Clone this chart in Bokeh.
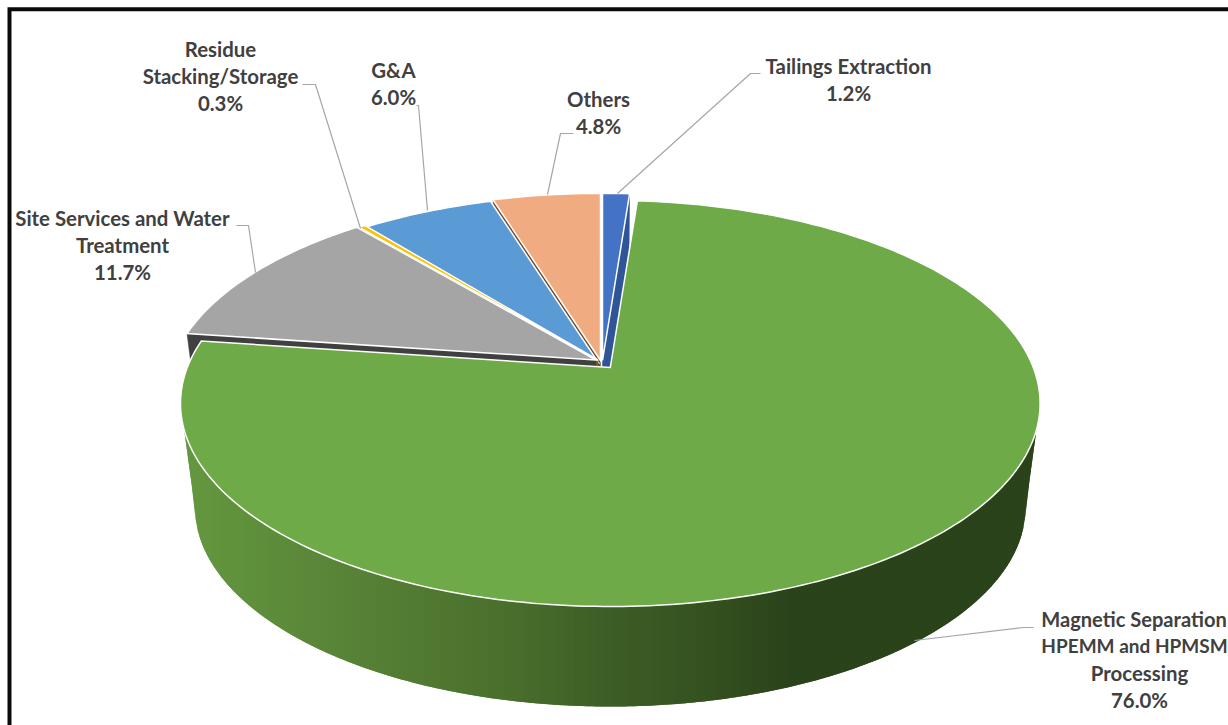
import math
import numpy as np
from bokeh.embed import file_html
from bokeh.models import ColumnDataSource
from bokeh.plotting import figure
from bokeh.resources import INLINE
from bokeh.core.properties import value

# Operating cost shares, in drawing order: clockwise from twelve o'clock
categories = ["Tailings Extraction", "Magnetic Separation, HPEMM and HPMSM Processing",
              "Site Services and Water Treatment", "Residue Stacking/Storage", "G&A", "Others"]
shares = [1.2, 76.0, 11.7, 0.3, 6.0, 4.8]
top_colors = ["#4472c4", "#6eaa47", "#a5a5a5", "#ffc000", "#5b9bd5", "#f0ac80"]
side_colors = ["#2f5597", "#3e5f27", "#404040", "#7f6000", "#2e5d8a", "#6b4a30"]

# Pie projection: a tilted disc with a perspective term
SPREAD = 196.7
HALF_WIDTH = 423.0
TILT = 0.177
DEPTH = 103.6
LOW_X, LOW_Y = 0.967, 0.985
# Rim angles where the disc reaches its left and right extremes on screen
RIGHT_TURN = 100.2
LEFT_TURN = 259.8

# Where each slice's tip sits once pulled apart from the others
tips = {"Tailings Extraction": (602, 360),
        "Magnetic Separation, HPEMM and HPMSM Processing": (609.8, 367),
        "Site Services and Water Treatment": (595.5, 359.5),
        "Residue Stacking/Storage": (597.5, 359.5),
        "G&A": (597.5, 361.5),
        "Others": (600, 360)}

# Horizontal shading across the outer wall of the large slice
wall_stops = [(183, (0x64, 0x98, 0x3f)), (370, (0x56, 0x80, 0x35)), (500, (0x4a, 0x70, 0x2d)),
              (600, (0x3e, 0x5f, 0x27)), (700, (0x35, 0x52, 0x20)), (790, (0x2b, 0x43, 0x1b)),
              (1040, (0x2b, 0x43, 0x1b))]


def rim(theta, tip, low=False):
    t = math.radians(theta)
    u, v = math.sin(t), -math.cos(t)
    d = 1 - TILT * v
    x, y = HALF_WIDTH * u / d, SPREAD * v / d
    if low:
        return tip[0] + x * LOW_X, tip[1] + DEPTH + y * LOW_Y
    return tip[0] + x, tip[1] + y


def wall_color(x):
    for (x0, c0), (x1, c1) in zip(wall_stops, wall_stops[1:]):
        if x <= x1:
            f = max(0.0, (x - x0) / (x1 - x0))
            return "#%02x%02x%02x" % tuple(round(a + (b - a) * f) for a, b in zip(c0, c1))
    return "#%02x%02x%02x" % wall_stops[-1][1]


def outer_wall(tip):
    # Overlapping vertical strips between the upper rim and the silhouette below it;
    # each strip is painted over the right part of the one before, which hides the joins
    sweep = np.linspace(LEFT_TURN, RIGHT_TURN, 400)
    top = np.array([rim(a, tip) for a in sweep])
    low = np.array([rim(a, tip, True) for a in sweep])
    edge_x = np.concatenate(([top[0, 0]], low[:, 0], [top[-1, 0]]))
    edge_y = np.concatenate(([top[0, 1]], low[:, 1], [top[-1, 1]]))
    xs, ys, cols = [], [], []
    x_end = top[-1, 0]
    for x0 in range(int(math.ceil(top[0, 0])), int(x_end), 2):
        x1 = min(x0 + 4, x_end)
        t0, t1 = np.interp([x0, x1], top[:, 0], top[:, 1])
        b0, b1 = np.interp([x0, x1], edge_x, edge_y)
        xs.append([x0, x1, x1, x0])
        ys.append([t0 - 1, t1 - 1, b1, b0])
        cols.append(wall_color(x0 + 1))
    return dict(xs=xs, ys=ys, c=cols)


p = figure(width=1228, height=725, x_range=(0, 1228), y_range=(725, 0),
           output_backend="svg", toolbar_location=None, min_border=0)
p.axis.visible = False
p.grid.visible = False
p.outline_line_color = None
p.background_fill_color = "white"
p.border_fill_color = "white"

# Black frame, open at the right and the bottom
p.line([9, 9, 1228], [725, 8.7, 8.7], line_color="#0a0a0a", line_width=4, line_join="miter")

# Slice angles: the large slice is painted last so it overlaps the rest
start = 0.0
spans = {}
for name, share in zip(categories, shares):
    spans[name] = (start, start + share * 3.6)
    start += share * 3.6

order = [0, 5, 4, 3, 2, 1]
for i in order:
    name = categories[i]
    tip = tips[name]
    a0, a1 = spans[name]
    if shares[i] > 50:
        p.patches(xs="xs", ys="ys", source=ColumnDataSource(outer_wall(tip)),
                  fill_color="c", line_color=None)
    else:
        # Cut face of a small slice, visible on the side that faces the gap
        edge = a1 if (a0 + a1) / 2 < 180 else a0
        r0, r1 = rim(edge, tip), rim(edge, tip, True)
        p.patch([tip[0], r0[0], r1[0], tip[0]], [tip[1], r0[1], r1[1], tip[1] + DEPTH],
                fill_color=side_colors[i], line_color=side_colors[i], line_width=0.5)

    steps = max(2, int(a1 - a0))
    arc = [rim(a0 + (a1 - a0) * k / steps, tip) for k in range(steps + 1)]
    p.patch([tip[0]] + [q[0] for q in arc], [tip[1]] + [q[1] for q in arc],
            fill_color=top_colors[i], line_color="white", line_width=1.5, line_join="miter")

# Leader lines from the labels to their slices
leaders = [([617, 750, 760], [193, 73, 73]),
           ([547, 560, 573], [194, 133, 133]),
           ([427, 418, 416], [210, 105, 105]),
           ([360, 315, 302], [228, 84, 84]),
           ([255, 248, 236], [272, 225, 225]),
           ([914, 1023, 1033], [640, 627, 627])]
for lx, ly in leaders:
    p.line(lx, ly, line_color="#a6a6a6", line_width=1.2)

# Labels, one text per line, with the percentage taken from the shares
label_lines = [["Tailings Extraction"],
               ["Magnetic Separation", "HPEMM and HPMSM", "Processing"],
               ["Site Services and Water", "Treatment"],
               ["Residue", "Stacking/Storage"],
               ["G&A"],
               ["Others"]]
label_x = [848, 1139, 122, 220, 393, 598]
label_y = [65, 618, 217, 48, 69, 98]
LINE_STEP = 27
FONT_PX = 20.4
# The long lines at the right edge are set tighter so they stay on the page
tight_lines = {"Magnetic Separation": (1133.5, 20.1), "HPEMM and HPMSM": (1134, 19.0)}

for lines, share, cx, cy in zip(label_lines, shares, label_x, label_y):
    rows = lines + [f"{share:.1f}%"]
    for k, row in enumerate(rows):
        tx, size = tight_lines.get(row, (cx, FONT_PX))
        p.text(x=[tx], y=[cy + LINE_STEP * k], text=[row],
               text_align="center", text_baseline="middle", text_color="#404040",
               text_font=value("Lato"), text_font_style="bold", text_font_size=f"{size}px")

open("out.html", "w").write(file_html(p, INLINE))
